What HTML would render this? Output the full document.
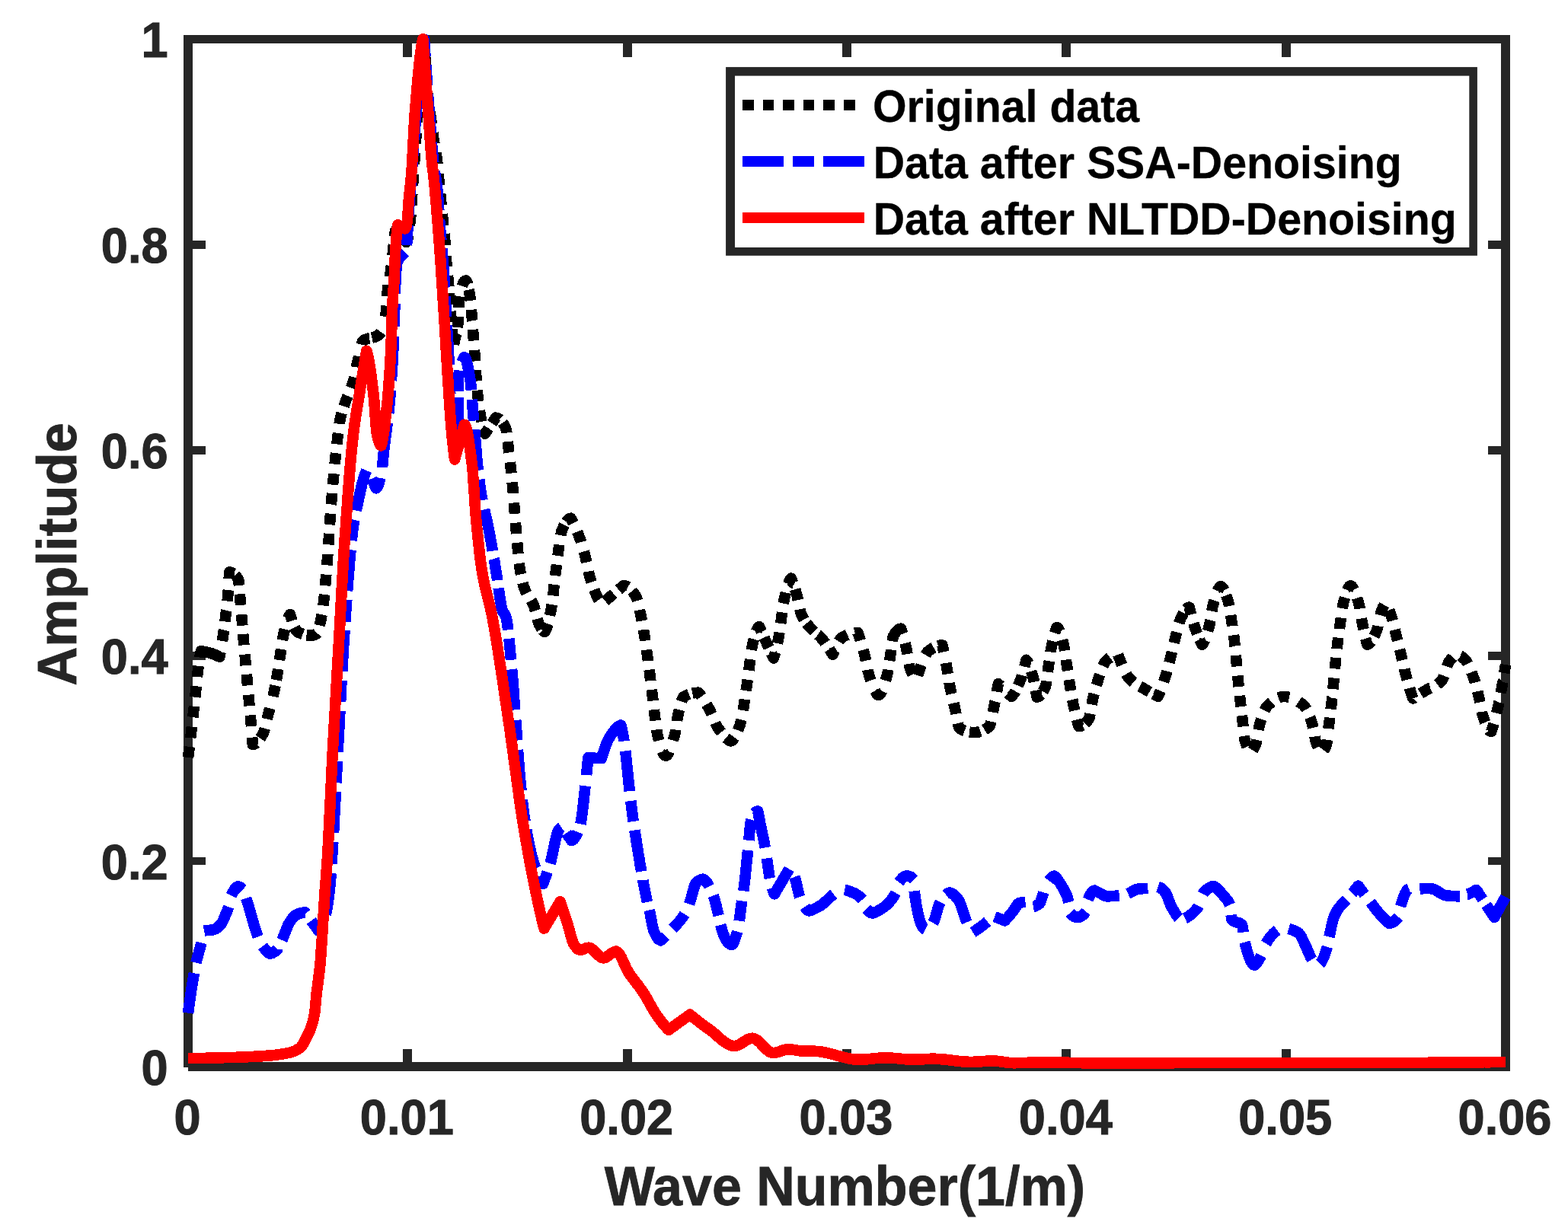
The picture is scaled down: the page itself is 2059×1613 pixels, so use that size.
<!DOCTYPE html>
<html lang="en">
<head>
<meta charset="utf-8">
<title>Amplitude vs Wave Number</title>
<style>
html,body{margin:0;padding:0;background:#fff;}
body{width:2059px;height:1613px;overflow:hidden;}
svg{display:block;}
text{font-family:"Liberation Sans",Arial,Helvetica,sans-serif;font-weight:bold;}
.tick{font-size:63.2px;fill:#262626;stroke:#262626;stroke-width:1px;}
.lab{font-size:70px;fill:#262626;stroke:#262626;stroke-width:0.8px;}
.leg{font-size:57.3px;fill:#000;stroke:#000;stroke-width:0.3px;}
</style>
</head>
<body>
<svg width="2059" height="1613" viewBox="0 0 2059 1613">
<rect x="0" y="0" width="2059" height="1613" fill="#ffffff"/>
<g stroke="#262626" stroke-width="11.7" fill="none" stroke-linecap="butt" shape-rendering="crispEdges">
<line x1="247" y1="46" x2="247" y2="1401.8"/>
<line x1="247.1" y1="1400.9" x2="1983" y2="1400.9"/>
<line x1="241.1" y1="51.4" x2="1983" y2="51.4" stroke-width="10.8"/>
<line x1="1977" y1="46" x2="1977" y2="1406.7"/>
<line x1="535.3" y1="1378.2" x2="535.3" y2="1396"/>
<line x1="535.3" y1="56" x2="535.3" y2="74.9"/>
<line x1="823.7" y1="1378.2" x2="823.7" y2="1396"/>
<line x1="823.7" y1="56" x2="823.7" y2="74.9"/>
<line x1="1112" y1="1378.2" x2="1112" y2="1396"/>
<line x1="1112" y1="56" x2="1112" y2="74.9"/>
<line x1="1400.3" y1="1378.2" x2="1400.3" y2="1396"/>
<line x1="1400.3" y1="56" x2="1400.3" y2="74.9"/>
<line x1="1688.7" y1="1378.2" x2="1688.7" y2="1396"/>
<line x1="1688.7" y1="56" x2="1688.7" y2="74.9"/>
<line x1="252" y1="1131.1" x2="269.8" y2="1131.1" stroke-width="10.6"/>
<line x1="1954.1" y1="1131.1" x2="1972" y2="1131.1" stroke-width="10.6"/>
<line x1="252" y1="861.2" x2="269.8" y2="861.2" stroke-width="10.6"/>
<line x1="1954.1" y1="861.2" x2="1972" y2="861.2" stroke-width="10.6"/>
<line x1="252" y1="591.2" x2="269.8" y2="591.2" stroke-width="10.6"/>
<line x1="1954.1" y1="591.2" x2="1972" y2="591.2" stroke-width="10.6"/>
<line x1="252" y1="321.3" x2="269.8" y2="321.3" stroke-width="10.6"/>
<line x1="1954.1" y1="321.3" x2="1972" y2="321.3" stroke-width="10.6"/>
</g>
<g fill="none" stroke-linejoin="round" shape-rendering="crispEdges">
<path stroke="#000000" stroke-width="14.6" d="M247 995 L247.5 991.4 L247.9 987.8 L248.4 984.1 L248.8 980.9 M250.2 969.2 L250.2 969 L250.7 965.2 L251.1 961.3 L251.6 957.4 L251.9 954.7 M253.3 942.1 L253.4 941.4 L253.8 937.4 L254.3 933.3 L254.8 929.2 L254.9 927.6 M256.2 915.8 L256.6 912.6 L257 908.4 L257.5 904.2 L257.8 901.3 M259 889.3 L259 888.9 L259.4 885.3 L259.8 882 L260.4 877.4 L260.7 874.8 M262.4 863.5 L262.7 861.3 L263.3 858.1 L263.9 855.2 L267.6 855.8 L271.3 856.6 L275 857.5 L278.4 858.5 L281.7 859.8 L285 861.2 L288.4 862.8 L289 859.8 L289.5 856.6 L289.6 856.4 M291.9 842 L292.4 838.7 L293 834.8 L293.5 831.5 L293.9 828 L294 827.6 M295.4 816.4 L295.8 813.1 L296.3 809.2 L296.7 805.7 L297.1 802.3 L297.2 801.9 M298.5 789.6 L298.8 787 L299.2 782.4 L299.4 779.3 L299.7 776 L299.8 775.1 M300.7 760.3 L300.9 755.9 L301.2 751.5 L304.1 752 L306.7 753.3 M309.2 755.7 L310 756.4 L312.9 760.8 L313.3 762.3 L313.6 765.1 L314 769 L314 769 M314.9 780.3 L315.1 783.1 L315.5 787.6 L315.8 791.2 L316.1 794.9 M317.1 807.1 L317.4 810.5 L317.7 814.4 L318 818.1 L318.3 821.7 M319.2 832.8 L319.2 832.9 L319.5 836.5 L319.8 840.1 L320.1 844.1 L320.4 847.3 M321.5 859.6 L321.9 863.1 L322.2 866.9 L322.5 870.6 L322.8 874.1 M323.9 885.8 L324.2 889.4 L324.5 893.1 L324.8 897 L325.1 900.4 M326.2 912.7 L326.6 916.1 L326.9 919.9 L327.3 923.7 L327.6 927.2 M328.8 939.4 L329 942.6 L329.4 946.7 L329.7 950.3 L330 954 M331.1 968.6 L331.2 969.6 L331.5 973.8 L331.8 978 L334.5 977.3 L336.4 975.9 M341.6 969.8 L342.7 968.2 L345.4 963.7 L346.4 961.4 L347.4 958.2 L347.8 956.8 M350.7 944.5 L351.4 941.4 L352.4 937.4 L353.4 933.9 L354.3 930.4 L354.3 930.4 M358.5 914.8 L359.1 912.1 L359.8 908.8 L360.5 905.4 L361.2 901.8 L361.5 900.5 M362.8 893.3 L363.4 890.1 L364.1 886 L364.7 882.5 L365.2 878.9 L365.2 878.9 M367 867.1 L367.5 863.5 L368.1 859.8 L368.7 855.8 L369.2 852.7 M370.9 840.8 L371.1 839.8 L371.7 836.5 L372.3 833.6 L373.5 828.4 L374 826.5 M378.2 812 L378.5 811.3 L379.8 808.7 L381 807 L382.4 811.4 L383.7 815.4 M386.9 824.2 L388.1 826.7 L389.5 828.9 L390.9 830.2 L394.5 831.8 L397.7 833 M402.5 834.2 L405.4 834.6 L409 834.8 L412.2 834.2 L415.5 832.5 L416.2 831.6 M419.6 821.5 L420.1 819.4 L421.3 814.4 L421.9 811.7 L422.4 808.6 L422.7 807.3 M424.4 795.4 L424.7 792.9 L425.3 788.2 L425.6 785.1 L426 781.7 L426.1 780.9 M427.1 769.2 L427.4 766.1 L427.7 762 L428 758.4 L428.3 754.7 L428.3 754.7 M429.3 742.4 L429.5 739.2 L429.8 735.2 L430.1 731.6 L430.3 727.9 M431.2 715.4 L431.4 712.3 L431.7 708.3 L432 704.3 L432.2 700.8 M433 689.2 L433.1 688.3 L433.3 684.3 L433.6 680.4 L433.9 676.6 L434 674.6 M434.9 662.4 L435 661.9 L435.2 658.5 L435.5 655.2 L435.9 650.6 L436.1 647.9 M437.1 636.7 L437.4 632.9 L437.8 628.6 L438.2 624.4 L438.4 622.2 M439.6 609.6 L439.7 608.1 L440.1 604.3 L440.5 600.4 L440.9 596.7 L441.1 595.1 M442.3 583.4 L442.4 582.6 L442.8 579.3 L443.2 576.1 L443.7 571.7 L444.1 568.9 M445.7 556.8 L445.8 555.7 L446.4 552.4 L446.9 549.7 L447.9 545.2 L448.6 542.6 M451.5 533.7 L452.1 531.9 L453.2 529 L454.2 526.1 L455.6 522.4 L456.6 520 M461.1 509.5 L462.4 505.9 L463.8 501.6 L464.6 498.8 L465.3 495.5 M468 482.4 L468.3 480.5 L469.1 477.1 L470.1 472.8 L471.1 468.1 L471.1 468.1 M474.6 452.6 L474.9 451.3 L475.9 448.7 L476.9 447.4 L480.6 445.5 L484.3 444.4 L485.2 444.3 M488.4 443.6 L491.6 442.9 L495.3 441.3 L497.3 440 L499.2 438.1 L500.5 436.3 M506.1 416.1 L506.4 414.4 L507 409 L507.2 406.3 L507.5 402.8 L507.6 401.6 M508.3 389 L508.5 386.2 L508.8 382.7 L509 380 L509.6 375.3 L509.7 374.5 M511.7 363.6 L511.9 362.4 L512.5 359.2 L513.1 355.4 L513.5 352.1 L513.9 349.2 M515.4 335.8 L515.8 332.7 L516.2 328.8 L516.6 324.8 L517 321.2 M518 310.6 L518.3 307.8 L518.8 304.9 L519.2 303.4 L520.9 300.9 L522.5 300 L523.8 302.1 M530.8 313.6 L533.5 318 L534.2 317.3 L534.8 315.5 L535.5 312.6 L536.1 309.1 M537.9 296 L538.1 294.1 L538.8 288.6 L539.1 285.9 L539.4 282.5 L539.4 281.5 M540.3 269.3 L540.5 266.1 L540.8 261.9 L541 258.4 L541.3 254.7 L541.3 254.7 M542 243.3 L542.3 239.7 L542.5 236.1 L542.8 232 L543 228.7 M543.9 215.1 L544.2 211.6 L544.4 207.6 L544.7 203.5 L544.9 200.6 M545.7 188.8 L545.8 187.6 L546.1 183.6 L546.4 179.8 L546.6 175.9 L546.8 174.3 M547.7 161 L547.7 160.9 L548 157.3 L548.3 153.7 L548.6 149.4 L548.9 146.4 M549.7 135.6 L550 132.5 L550.3 128.4 L550.6 124.3 L550.9 121 M551.8 110.2 L552 108.1 L552.3 104.2 L552.6 100.3 L553 96.4 L553.1 95.6 M554 84.8 L554.3 81.2 L554.7 77.6 L555 73.9 L555.3 70.3 L555.3 70.2 M556.4 59.4 L556.7 56.4 L557 53 L557.3 58 L557.4 61.2 M558 72 L558.1 72.2 L558.3 76.8 L558.6 81.2 L558.9 85.5 L558.9 86.6 M559.6 97.5 L559.6 97.8 L559.9 101.6 L560.2 105.3 L560.4 108.9 L560.7 112 M561.6 122.9 L561.8 124.7 L562 127.4 L562.3 130 L562.8 134.4 L563.2 137.4 M564.7 148.2 L564.8 148.5 L565.3 151.9 L565.8 155.4 L566.3 159.1 L566.8 162.6 M568.3 174.4 L568.3 174.5 L568.8 178.1 L569.3 181.6 L569.9 185.5 L570.5 188.8 M572.6 200.7 L573 203.4 L573.6 207.9 L573.9 210.7 L574.3 213.9 L574.4 215.2 M575.6 228.5 L575.6 228.6 L576 232.2 L576.3 235.8 L576.7 239.6 L577 243.1 M578.2 254.8 L578.5 258.4 L578.9 262.1 L579.3 265.8 L579.6 269.4 M580.8 281 L581.1 284.6 L581.5 288.3 L581.9 292 L582.2 295.5 L582.2 295.6 M583.4 307.2 L583.7 310.3 L584.1 314.5 L584.4 317.7 L584.6 321.2 L584.6 321.8 M585.6 335.8 L585.6 336.3 L585.9 339.8 L586.1 343 L586.5 347.2 L586.8 350.4 M588 362 L588.3 365.4 L588.7 369.5 L589 373 L589.3 376.6 M589.9 385.4 L590.1 388.4 L590.4 392.4 L590.7 396.3 L591 400 M591.7 408.8 L591.9 411.5 L592.2 415.2 L592.6 418.9 L592.9 422.6 L592.9 423.3 M593.7 432.2 L593.8 433.4 L594.1 436.9 L594.4 440.3 L594.6 443.7 L594.9 446.7 M595.9 452.5 L596.1 451.4 L596.8 448.7 L597.4 445.8 L598.1 442.8 L598.8 440.1 L599.3 438.3 M600.8 430.1 L600.9 429.1 L601.6 422.8 L601.7 420.4 L601.9 416.4 L601.9 415.5 M602.3 403.8 L602.3 402 L602.5 398.4 L602.6 396.4 L603.7 389.3 M606.8 375.8 L607.2 374.5 L608.3 371.8 L609.4 369.9 L610.6 368.8 L611.7 368.5 L612.7 369.5 L613.8 372.4 L614 373.2 M615.6 380.5 L615.9 381.9 L616.9 387.7 L617.3 390.2 L617.6 393.3 L617.8 394.9 M618.9 406.7 L619.1 409.5 L619.5 413.9 L619.8 417.2 L620 420.8 L620.1 421.2 M620.9 432.9 L621.2 436.3 L621.4 440.2 L621.7 443.9 L622 447.5 M623 459.8 L623.2 463 L623.5 467.1 L623.7 470.7 L624 474.4 M624.7 486 L624.7 486.1 L625 489.8 L625.2 493.3 L625.5 497.6 L625.7 500.6 M626.7 512.7 L626.8 513.5 L627.1 516.9 L627.4 520 L627.9 524.7 L628.2 527.2 M629.8 539.4 L630 540.5 L630.5 543.7 L631 546.6 L632 551.7 L632.4 553.8 M634.8 563.9 L634.9 564.5 L635.9 567.5 L636.9 569.7 L641.5 562.7 M646 556 L650.9 548.7 L653.5 549.2 L656.1 550.7 L656.2 550.8 M660.1 555.2 L661.4 557.1 L664 561.9 L664.5 563.6 L665 566.3 L665.3 568.6 M666.7 580 L667 583 L667.5 587.2 L667.9 590.5 L668.3 593.9 L668.4 594.5 M669.9 607.1 L670 608.1 L670.4 611.9 L670.8 615.7 L671.2 619.6 L671.4 621.6 M672.6 633.3 L672.9 636.1 L673.3 640.5 L673.6 643.8 L673.9 647.4 L673.9 647.8 M674.9 660.4 L675.1 662.8 L675.4 666.9 L675.7 670.9 L676 674.9 M676.9 686.6 L676.9 686.7 L677.2 690.4 L677.5 693.9 L677.9 698.2 L678.1 701.1 M679.1 712.8 L679.4 715.5 L679.7 719.8 L680.1 723.9 L680.4 727.4 M681.7 740 L682 741.9 L682.3 744.7 L682.7 747.2 L683.5 752.1 L684 754.4 M686.4 765.6 L686.8 767.3 L687.7 770.2 L688.5 772.6 L690.3 776.8 L691.5 779.2 M697.5 788.7 L699 791.4 L700.8 795.3 L701.8 798.2 L702.8 801.9 L702.9 802.2 M705.5 812.8 L705.8 813.9 L706.8 817.3 L707.8 819.8 L709.6 823.3 L711.3 826.1 M712.8 828.2 L713.2 828.7 L715 830 L716.1 828.8 L717.1 826.6 L718.2 823.7 L719.2 820.1 L719.5 819.3 M722 808.5 L722.4 806.5 L723.5 801.4 L724 798.9 L724.4 796 L724.7 794.2 M726.2 782.4 L726.3 781.4 L726.8 777.2 L727.2 773 L727.7 768.7 L727.8 767.9 M729.1 756.2 L729.5 752.5 L730 749 L730.6 744.7 L731 741.7 M732.4 730 L732.9 726.5 L733.4 722 L734 717.6 L734.3 715.5 M736.2 703.2 L736.3 702.7 L736.9 700 L737.4 697.7 L738 696.1 L740.3 691.1 L741.1 689.5 M743.7 685.3 L744.8 683.6 L747.1 681.5 L749.4 680.8 L751 683.4 L752.6 686.3 L752.9 686.9 M758.1 698.4 L759.1 701 L760.7 705.2 L761.8 708.3 L763 711.7 L763.1 712.1 M766.7 724.4 L767.5 727.2 L768.6 731.5 L769.4 735 L770.2 738.6 M772.7 750.6 L772.8 751.2 L773.7 754.8 L774.5 757.7 L776.1 762.6 L776.8 764.6 M780.3 774.5 L781 776.4 L782.6 780.4 L784.3 784 L785.9 787.1 L786.4 787.8 M794.6 789.3 L805.8 780 M812.3 774.6 L818.8 769.1 L821.4 769.5 L824 770.8 L824.5 771.1 M830.1 776.3 L831.9 778.5 L834.5 782.2 L835.5 784.2 L836.5 787 L837.1 789 M840 801.2 L840.5 803.7 L841.5 808.4 L842.1 811.3 L842.7 814.4 L842.9 815.5 M845 827.2 L845.1 828.3 L845.8 832.1 L846.4 836 L847 840 L847.2 841.6 M849 853.5 L849.4 856.5 L850 860.7 L850.5 864.1 L851 867.6 L851 867.9 M852.5 879.7 L852.9 882.4 L853.4 886.2 L853.8 890.1 L854.3 894 L854.3 894.2 M855.8 905.9 L856.2 909.4 L856.7 913.2 L857.2 917.1 L857.6 920.4 M858.9 932.1 L859.1 934.1 L859.6 938.4 L860.1 942.6 L860.6 946.6 M862.2 958.4 L862.5 960.8 L863 963.4 L863.5 965.6 L864.8 970.8 L865.3 972.7 M869.8 987 L870.2 987.9 L871.5 990.5 L872.9 992.1 L874.2 992.7 L875.7 992.1 L877.1 990.4 L878.6 987.8 L878.7 987.5 M883.9 972.6 L884.4 970.8 L885.9 965.6 L886.5 962.8 L887.2 959.2 L887.3 958.5 M889 946.6 L889 946.4 L889.7 942.5 L890.3 939.4 L891.4 934.7 L892 932.3 M894.9 921.4 L895.9 918.5 L897 916.1 L898.1 914.9 L902 913 L904.8 911.9 M909.2 910.6 L909.7 910.5 L913.5 909.9 L917.4 909.7 L919.4 912.3 L921.2 914.8 M927.8 925.1 L929.4 927.9 L931.4 931.5 L933 934.7 L934.5 938.1 M939.3 949.5 L939.5 950 L941.1 953.3 L942.7 956 L945.1 959.4 L947 961.9 M953.3 969.3 L954.6 970.4 L956.9 972.2 L959.3 973.4 L961.1 972.8 L962.8 971.2 L964.6 968.7 M969 959.3 L969.8 957.1 L971.6 952.5 L972.2 950.5 L972.9 948 L973.5 945.4 M975.7 933.1 L976.2 930.4 L976.8 926.2 L977.5 921.9 L977.9 918.6 M979.6 907.2 L980.1 904.2 L980.7 900 L981.2 896.4 L981.7 892.8 M983.3 880.5 L983.4 879.8 L983.9 875.4 L984.5 871.1 L985 866.8 L985.1 866 M986.8 853.8 L987.1 851.9 L987.7 849.1 L988.2 846.7 L989.4 841.8 L990 839.6 M993.2 829.2 L993.2 829.2 L994.4 826.2 L995.7 824.1 L996.9 823.1 L999.9 829.7 M1003.4 837.4 L1009.5 850.7 M1013 858.3 L1015.8 864.5 L1016.7 861.6 L1017.7 858.3 L1018 857.1 M1020.8 845.1 L1021.4 842.5 L1022.3 837.9 L1022.9 834.9 L1023.4 831.4 L1023.5 830.7 M1025.2 818.9 L1025.7 815.2 L1026.2 810.9 L1026.8 806.6 L1027.1 804.4 M1028.8 792.6 L1029.1 791.2 L1029.6 788.1 L1030.2 785.5 L1031.4 780.5 L1031.9 778.4 M1035.2 766.9 L1036.2 764.2 L1037.4 761.5 L1038.6 759.6 L1039.9 762.4 L1041.1 765.6 L1041.2 765.6 M1044.1 774.1 L1044.9 776.9 L1046.2 781.1 L1047.1 784.5 L1047.9 788.2 M1050.4 800.3 L1050.6 801.3 L1051.5 804.7 L1052.4 807.3 L1054.4 811.4 L1055.7 813.8 M1059.1 818.7 L1060.3 820.2 L1062.3 822.5 L1064.3 824.8 L1066.8 827.4 L1069 829.5 M1073.9 833.7 L1074.2 833.9 L1076.6 836.2 L1079.1 838.8 L1081.2 841.3 L1083.2 843.9 L1083.6 844.5 M1089.2 852.7 L1089.4 853 L1091.4 856.3 L1093.5 859.8 L1095.3 855.5 L1096 854 M1101.5 842.5 L1102.6 840.8 L1104.4 838.5 L1106.2 837 L1109.5 835.3 L1112.8 833.8 M1122.6 831.2 L1123 831.1 L1126.3 830.9 L1127.4 833.9 L1128.6 837.1 L1129.7 840.5 L1129.9 841.2 M1133.5 853.6 L1134.3 856.3 L1135.4 860.6 L1136.2 864.1 L1137 867.8 M1139.4 879.8 L1139.5 880.4 L1140.4 884 L1141.2 886.9 L1142.7 891.5 L1143.5 893.8 M1149 907.4 L1150.4 909.8 L1151.9 911.9 L1153.4 913.1 L1154.8 912.5 L1156.2 910.9 L1157.7 908.4 L1158 907.7 M1162.8 893.9 L1163.4 891.9 L1164.8 886.9 L1165.4 884.3 L1166.1 881 L1166.3 879.7 M1168.1 867.9 L1168.6 864.6 L1169.2 860.6 L1169.8 856.7 L1170.2 853.4 M1171.7 842.3 L1172.1 840 L1172.6 837.1 L1173.2 835.3 L1175.7 831.2 L1178.2 828.2 L1180.7 826.3 L1183.2 825.7 L1184.2 828.7 L1185.2 832.1 L1185.4 832.6 M1188.5 844.8 L1189.2 847.6 L1190.2 851.9 L1190.9 855.6 L1191.5 859.1 M1193.7 871.9 L1193.9 873.2 L1194.7 876.7 L1195.4 879 L1197.6 883.6 L1198.7 885.5 M1205.2 887.3 L1205.7 885.8 L1207.3 880.9 L1208.8 876.2 L1209.8 873.5 M1215.4 860.3 L1216.7 858.1 L1218.3 855.9 L1219.9 854.5 L1223.4 852.2 L1226.1 850.7 M1231.9 848.4 L1233.9 847.8 L1237.4 847.5 L1238.2 851 L1238.9 854.5 L1239.3 856.3 M1242.2 870.9 L1242.7 874 L1243.5 878.1 L1244.1 881.7 L1244.7 885.3 M1246.6 897.2 L1246.6 897.4 L1247.3 901 L1247.9 904.4 L1248.8 908.6 L1249.4 911.5 M1252.3 923.5 L1253.1 926.9 L1254 930.6 L1254.9 934.7 L1255.4 937.7 M1257.8 950 L1258.4 952.6 L1259.2 955.4 L1260.1 956.8 L1263.9 958.9 L1266.7 959.9 M1273 961.6 L1275.5 961.9 L1279.3 962.1 L1282.6 961.9 L1285.8 961.3 L1287.4 960.8 M1292.9 958.6 L1295.6 956.9 L1298.9 954.5 L1299.8 953 L1300.7 950.3 L1301.3 947.7 M1303.8 935.6 L1304.3 933 L1305.2 928.5 L1305.9 925.1 L1306.6 921.6 L1306.7 921.3 M1309 908.7 L1309.4 906.4 L1310.1 902.4 L1310.8 898.2 L1313.7 900.9 M1324 910.8 L1328.3 914.9 L1330.2 912.8 L1332.1 910.1 L1333.3 907.9 M1336.9 900.6 L1337.8 898.5 L1339.7 893.9 L1340.7 891.3 L1341.7 888.5 L1342.1 887 M1345.3 875.5 L1345.5 874.7 L1346.5 870.8 L1347.5 866.8 L1349 868.5 L1350.4 871.2 L1350.6 871.5 M1354.2 881.6 L1354.8 883.6 L1356.3 888.6 L1357 891.4 L1357.8 894.7 L1358 895.7 M1360.1 906.9 L1360.8 911.1 L1361.5 915.7 L1363.8 915.1 L1366.1 913.4 L1366.4 913 M1369.6 908.3 L1370.6 906.6 L1372.9 901.7 L1373.4 899.7 L1374 896.7 L1374.3 894.6 M1375.8 882.7 L1376.2 879.4 L1376.7 875.5 L1377.3 871.5 L1377.8 868.3 M1379.5 856.5 L1379.6 855.7 L1380.2 852.3 L1380.8 849.3 L1381.8 844.6 L1382.4 842.2 M1385 831.5 L1385.8 828.9 L1386.8 826.1 L1387.8 823.9 L1389.1 824.6 L1390.4 826.5 L1391.4 829 M1395 840.5 L1395.5 842.5 L1396.8 847.5 L1397.4 850.2 L1398 853.5 L1398.2 854.7 M1399.9 866.5 L1400.3 869.8 L1400.9 873.8 L1401.5 877.6 L1402 881 M1403.8 892.8 L1403.8 892.8 L1404.3 896.5 L1404.9 900 L1405.6 904 L1406.1 907.2 M1408.2 919 L1408.3 919.4 L1408.9 922.9 L1409.6 926.2 L1410.5 930.3 L1411.2 933.3 M1414 945.3 L1414.8 948.4 L1415.7 951.4 L1416.6 954.2 L1419.2 953.8 L1421.7 952.7 M1425 950.1 L1427.1 948 L1429.7 944.6 L1430.5 942.7 L1431.2 939.6 L1431.6 937.5 M1433.6 925.5 L1434.2 922.1 L1435 918.4 L1436 914.3 L1436.8 911.3 M1439.8 900 L1440 899.4 L1441 896.1 L1442 893 L1443.4 888.7 L1444.3 886.1 M1448.3 874.8 L1449.1 873 L1450.5 870.3 L1451.9 868.5 L1455.1 865.6 L1457.5 863.8 M1468.1 859.8 L1469.7 864.1 L1471.3 868.5 L1473 872.7 L1473.3 873.4 M1478.9 885.3 L1479.7 886.7 L1481.3 889.3 L1483 891.3 L1485.9 894.1 L1488.4 896.2 M1496.8 901.6 L1497.4 901.9 L1500.3 903.5 L1503.2 905.2 L1506.7 907.3 L1509.4 908.9 M1514.9 911.9 L1517.1 913.1 L1520.6 914.9 L1521.8 912.2 L1523 909.3 L1523.8 907.4 M1528 895.6 L1529.1 892.4 L1530.3 888.6 L1531.3 885.4 L1532.3 882 L1532.4 881.6 M1535.4 870.3 L1536.2 867.2 L1537.2 863.3 L1538.1 859.7 L1538.9 856.2 M1541.7 844.5 L1542.5 840.9 L1543.4 837.4 L1544.4 833.3 L1545.2 830.3 M1548.2 818.5 L1548.6 817.2 L1549.7 814.1 L1550.7 811.7 L1552.9 807.5 L1554.2 805.3 M1557.8 800.2 L1559.5 798.5 L1561.7 797.7 L1562.7 801.7 L1563.7 805.6 L1564.1 807.2 M1567.3 818.7 L1567.6 819.7 L1568.6 822.8 L1569.6 825.7 L1571.1 829.8 L1572.1 832.5 M1575.2 840.1 L1575.5 840.8 L1576.9 843.9 L1578.4 846.7 L1579.8 845.3 L1581.1 843 L1582.2 840.6 M1586 828.9 L1586.6 826.8 L1588 821.8 L1588.7 818.8 L1589.3 815.1 L1589.4 814.7 M1591.3 802.8 L1591.4 802.3 L1592 798.5 L1592.7 795.6 L1594.1 790.4 L1594.7 788.6 M1598.8 776.1 L1599.9 773.7 L1601.4 771.3 L1602.8 770.1 L1604.4 770.8 L1606 772.8 L1607.4 775.4 M1610.1 782 L1610.9 784.2 L1612.5 789 L1613.2 791.4 L1613.8 794.6 L1614.1 796.1 M1616.1 808 L1616.5 810.9 L1617.2 815.2 L1617.7 818.5 L1618.3 821.9 L1618.3 822.4 M1620 834.2 L1620.4 837.1 L1620.9 841.4 L1621.3 844.7 L1621.6 848.3 L1621.7 848.7 M1622.8 860.9 L1623.1 864.2 L1623.5 868.2 L1623.8 871.9 L1624.2 875.4 M1625.2 887.5 L1625.6 891.1 L1625.9 894.7 L1626.3 898.7 L1626.6 902 M1627.9 913.7 L1627.9 913.8 L1628.3 917.4 L1628.7 921 L1629.1 924.9 L1629.5 928.2 M1630.8 939.9 L1631.3 943.6 L1631.7 947.2 L1632.2 951.4 L1632.5 954.4 M1633.8 966.7 L1634.1 968.6 L1634.5 971.7 L1635 973.8 L1636.9 979.4 L1637.5 980.8 M1645.1 985.5 L1646.5 983.2 L1648.5 979 L1649.3 976.5 L1650.1 972.8 L1650.3 971.9 M1652.6 958.7 L1653.3 954.8 L1654.1 951.6 L1655.6 946.8 L1656.3 944.6 M1660.6 933.3 L1661.5 931.4 L1662.9 928.9 L1664.4 927.1 L1667.5 924.2 L1669.8 922.2 M1678.7 916.5 L1679.8 916.1 L1682.8 915.2 L1685.9 914.9 L1689.5 915.2 L1693 915.9 M1705.3 921.6 L1707.7 923.2 L1711.3 925.9 L1712.9 927.5 L1714.5 929.8 L1715.6 931.7 M1720.1 942.1 L1721 944.3 L1722.6 949 L1723.4 951.9 L1724.2 955.6 L1724.3 956 M1726.4 967.5 L1726.5 968.2 L1727.3 971.9 L1728.1 974.6 L1729.8 979.3 L1730.7 981.4 M1738.2 985.4 L1739.4 983.8 L1741.6 979 L1742.1 977.3 L1742.5 974.5 L1742.9 971.8 M1744.5 957.1 L1744.8 953.7 L1745.3 949.8 L1745.8 946.2 L1746.2 942.7 L1746.2 942.6 M1747.6 931.4 L1748 928.1 L1748.5 924.1 L1748.9 920.7 L1749.2 917.1 L1749.3 916.9 M1750.4 905.1 L1750.7 901.8 L1751.1 897.9 L1751.5 894.1 L1751.8 890.6 M1752.9 878.4 L1753.2 874.8 L1753.6 871.1 L1754 867.1 L1754.3 863.9 M1755.6 852.2 L1755.6 851.9 L1756 848.3 L1756.4 844.9 L1756.9 840.8 L1757.3 837.7 M1758.9 825.9 L1758.9 825.7 L1759.4 822.2 L1759.9 818.7 L1760.5 814.4 L1760.9 811.5 M1762.7 799.1 L1762.9 797.8 L1763.5 794.5 L1764.1 791.9 L1765.4 787 L1766 784.9 M1769.2 775.1 L1769.4 774.6 L1770.7 771.9 L1772 770 L1773.3 769.4 L1774.9 770.1 L1776.4 771.9 L1777.9 774.7 M1782 785.5 L1782.6 787.5 L1784.2 792.5 L1784.9 795.2 L1785.6 798.8 L1785.7 799.6 M1787.8 812.4 L1788.4 815.8 L1789.1 819.6 L1790 823.9 L1790.6 826.7 M1793.2 838.7 L1793.5 839.7 L1794.3 843.3 L1795.2 846.7 L1797.2 846 L1799.3 844.2 L1800.1 842.9 M1804.3 835.8 L1805.4 833.6 L1807.4 829.2 L1808.3 826.7 L1809.2 823.4 L1809.4 822.2 M1812.4 808.2 L1812.7 807.1 L1813.5 803.7 L1814.4 801.2 L1816.1 797.6 L1817.8 794.7 M1824.1 801.4 L1825.3 804.3 L1826.7 808.2 L1827.6 811.1 L1828.6 814.5 L1828.8 815.2 M1831.6 827.2 L1832.4 830.4 L1833.3 834.3 L1834.2 838 L1835.1 841.4 M1838 853 L1838.8 856.4 L1839.7 860.1 L1840.6 863.8 L1841.4 867.2 M1844.1 878.8 L1844.1 878.9 L1845 882.5 L1845.9 885.9 L1847 889.8 L1847.8 892.9 M1851 903.8 L1851.2 904.6 L1852.3 908 L1853.4 911.3 L1854.4 914.5 L1855.5 917.5 L1855.6 917.4 M1865.5 911 L1868.5 909.1 L1871.7 907.1 L1874.8 905.4 L1877.8 903.9 L1878.2 903.8 M1887.5 899 L1890 897.1 L1893.1 894.3 L1894.5 892 L1895.9 888.5 L1896.2 887.7 M1900.1 875.5 L1900.2 875.2 L1901.6 871.4 L1903 868.8 L1905.5 865.5 L1907.6 863.1 M1917.6 861.4 L1918.1 861.6 L1920.7 863.6 L1923.3 865.9 L1925 867.8 L1926.6 870.3 L1927.4 871.9 M1932.3 882.9 L1933.2 885.3 L1934.9 889.7 L1935.9 892.6 L1936.9 895.8 L1937.1 896.6 M1940.2 908.1 L1940.9 911.1 L1941.9 915.2 L1942.7 918.9 L1943.4 922.4 M1945.9 934.9 L1946 935.7 L1946.9 939.2 L1947.7 941.9 L1949.4 946.6 L1950.3 948.8 M1955.3 959 L1956.4 960.2 L1958.1 961.1 L1959.1 958.4 L1960 955.4 L1961 952.2 L1961.5 950.6 M1965.1 936.8 L1965.8 933.8 L1966.8 929.7 L1967.6 926.4 L1968.3 922.8 L1968.4 922.6 M1970.8 910.2 L1971.3 907.2 L1972.1 903 L1972.7 899.6 L1973.3 896 L1973.4 895.9 M1975.3 884.1 L1975.8 881 L1976.4 877 L1977 873"/>
<path stroke="#0000ff" stroke-width="14.6" d="M247 1330.7 L247.6 1326.4 L248.1 1322.2 L248.7 1318.2 L249.3 1314.1 L249.8 1310.2 L250.4 1306.4 L250.9 1302.6 L251.5 1298.9 L252.1 1295.3 L252.6 1291.8 L253.2 1288.3 L253.8 1284.9 L254.3 1281.6 L254.9 1278.3 L254.9 1278.3 M257.5 1264.6 L257.5 1264.6 L258.5 1260.4 L259.5 1256.5 L260.5 1252.9 L261.5 1249.4 L262.5 1246 L263.5 1242.3 L264.5 1238.4 M268 1222.7 L271.1 1222.1 L274.1 1221.9 L277.1 1221.7 L280.2 1221.3 L282.8 1220.3 L285.4 1218.5 L288.1 1216 L290.7 1213.1 L292.2 1210.7 L293.8 1207.4 L295.3 1203.6 L296.8 1199.9 L298 1197.3 L299.1 1194.5 L300.3 1191.2 L300.3 1191.2 M303.8 1176.3 L303.8 1176.3 L306 1171.7 L308.2 1167.9 L310.4 1165.3 L312.6 1164.4 L315.6 1165.6 L318.7 1168.5 M323.1 1179.8 L324.2 1183.1 L325.3 1186.6 L326.5 1190.2 L327.6 1194.1 L328.7 1198 L329.8 1202 L331 1205.9 L332.1 1209.9 L333.2 1213.8 L334.3 1217.5 L335.4 1221.1 L336.6 1224.5 L337.7 1227.6 L338.8 1230.5 L338.8 1230.5 M344.9 1242.8 L344.9 1242.8 L347.3 1246 L349.7 1248.9 L352.1 1251.2 L354.5 1252.7 L357.7 1251.9 L360.9 1249.9 L364.1 1247.2 L364.1 1247.1 M370.3 1234.9 L370.3 1234.9 L371.7 1231.7 L373 1228.3 L374.4 1224.7 L375.8 1221.1 L377.2 1217.7 L378.5 1214.7 L379.9 1212.2 L382.1 1208.8 L384.2 1205.7 L386.4 1203.2 L388.6 1201.7 L391.7 1200.4 L394.8 1199.4 L397.8 1198.7 L400.9 1198.5 L401.6 1199.5 M408.8 1209.4 L418.4 1222.7 L419.8 1222.1 L421.1 1220.3 L422.5 1217.5 L423.9 1213.9 L424.3 1212.7 M427.7 1201 L428 1200 L428.6 1197.7 L429.2 1194.9 L429.7 1191.7 L430.3 1188.1 L430.9 1184.1 L431.5 1179.8 L432 1175.2 L432.6 1170.2 L433.2 1165 L433.5 1162.1 L433.8 1158.8 L434.1 1155.2 L434.4 1151.4 L434.6 1147.3 L434.7 1146.6 M435.5 1134.5 L435.5 1134.4 L435.8 1130 L436 1126.7 L436.2 1123.4 L436.4 1120 L436.7 1116.5 L436.9 1113 L437.1 1109.4 L437.3 1106.1 M438 1093.9 L438.2 1090.8 L438.4 1086.9 L438.6 1083 L438.8 1079.1 L439 1075.1 L439.2 1071.1 L439.4 1067.1 L439.6 1063 L439.9 1059 L440.1 1054.9 L440.3 1050.8 L440.5 1046.7 L440.7 1042.6 L440.9 1039.7 M441.5 1028.3 L441.6 1026.2 L441.8 1022.1 L442 1018 L442.2 1013.9 L442.4 1009.8 L442.6 1005.8 L442.9 1001.8 L443 999.5 M443.6 988.1 L443.7 986 L443.9 982.1 L444.1 978.2 L444.3 974.2 L444.6 970.2 L444.8 966.2 L445 962.2 L445.2 958.1 L445.4 954.1 L445.6 950 L445.8 945.9 L446 941.9 L446.2 937.8 L446.4 933.9 M447.1 921.7 L447.1 921.5 L447.3 917.5 L447.5 913.5 L447.7 909.5 L447.9 905.5 L448.1 901.5 L448.4 897.6 L448.6 893.7 M449.2 882.3 L449.2 882.1 L449.4 878.4 L449.6 874.7 L449.8 871 L450 867.3 L450.3 863.8 L450.5 860.2 L450.7 856.8 L450.9 853.4 L451.1 850 L451.4 845.4 L451.7 840.9 L452 836.4 L452.3 831.9 L452.5 827.9 M453.3 816.5 L453.4 814.3 L453.7 810 L454 805.7 L454.3 801.5 L454.6 797.3 L454.9 793.1 L455.2 789 L455.2 788.2 M456.1 776.3 L456.3 773 L456.6 769.1 L456.9 765.3 L457.2 761.5 L457.5 757.8 L457.8 754.2 L458.1 750.6 L458.4 747.1 L458.6 743.6 L458.9 740.2 L459.2 736.9 L459.5 733.7 L459.8 730.5 L460.1 727.4 L460.5 722.7 L460.6 722.1 M461.8 709.8 L461.9 709.2 L462.3 704.9 L462.8 700.8 L463.2 696.9 L463.7 693.2 L464.1 689.8 L464.6 686.6 L465 683.7 L465.2 682.8 M467.7 670.6 L468.3 668 L469.1 664.4 L470 660.4 L470.9 656.2 L471.7 652.1 L472.6 648 L473.5 644 L474.4 640.1 L475.2 636.5 L476.1 633.1 L477 630 L478.3 625.9 L479.6 622.1 L480.9 618.7 L481.2 618 M488.1 628.7 L493.9 641.3 L494.9 640.7 L495.9 639.1 L496.9 636.6 L497.9 633.2 L498.9 629.1 L499.1 627.9 M501.9 613.8 L501.9 613.7 L502.2 611.2 L502.6 607.9 L502.9 604.1 L503.3 600.1 L503.6 596.2 L504 592.7 L504.5 588.5 L504.9 584.6 L505.4 580.8 L505.9 577.2 L506.3 573.7 L506.8 570.2 L507.3 566.7 L507.7 563.3 L508.2 559.7 L508.7 556.1 L508.7 555.9 M510.2 543 L510.5 539.7 L511 535 L511.3 532 L511.6 529 L511.8 525.9 L512.1 522.7 L512.4 519.5 L512.7 516.1 L512.9 512.9 M513.9 500 L514.1 497.5 L514.3 493.4 L514.6 489.1 L514.9 484.6 L515.2 480 L515.4 475.2 L515.7 470.2 L516 465 L516.1 462.1 L516.3 459.1 L516.4 455.8 L516.6 452.4 L516.7 448.8 L516.9 445 L517 441.7 M517.5 428.8 L517.6 424.7 L517.7 420.5 L517.9 416.2 L518 411.9 L518.2 407.6 L518.3 403.4 L518.5 399.2 L518.5 398.5 M518.9 385.6 L519 382.8 L519.1 378.5 L519.2 374.4 L519.4 370.7 L519.5 367.5 L519.6 365 L519.9 360.1 L520.2 355.7 L520.5 351.9 L520.9 348.8 L521.2 346.5 L521.5 345 L523.3 340.6 L525 338.1 L526.8 336.2 L529.5 334.2 L532.2 331.4 L532.2 331.4 M534 322 L534.2 319.5 L534.5 316.2 L534.7 312.4 L534.9 308.7 L535.1 305 L535.4 301.1 L535.6 297.1 L535.7 295.2 M536.4 283.7 L536.5 281 L536.8 277.2 L537 273.7 L537.3 269.4 L537.6 265.3 L537.9 261.3 L538.2 257.5 L538.5 253.7 L538.8 250 L539.1 246.3 L539.4 242.5 L539.7 238.7 L540 234.8 L540.2 232.1 M541.1 220.6 L541.2 218.6 L541.5 214.5 L541.8 210.4 L542.1 206.3 L542.4 202.2 L542.7 198.1 L543 194.1 L543.1 193.9 M543.9 182.4 L544 182 L544.3 178 L544.6 174.1 L544.9 170.2 L545.2 166.4 L545.5 162.6 L545.8 158.9 L546.1 155.3 L546.4 151.8 L546.7 148.4 L547 145 L547.4 140.5 L547.8 136 L548.2 131.6 L548.3 130.9 M549.4 119.4 L549.5 118.6 L549.9 114.3 L550.3 110.2 L550.8 106 L551.2 101.9 L551.6 97.9 L552 94 L552.1 92.7 M553.4 81.3 L553.7 78.8 L554.1 75.2 L554.5 71.6 L554.9 68.2 L555.3 64.8 L555.8 61.5 L556.2 58.2 L556.6 55.1 L557 52 L557.3 56.2 L557.5 60.3 L557.8 64.5 L558.1 68.6 L558.4 72.7 L558.5 74.2 M559.3 85.7 L559.5 88.7 L559.8 92.7 L560 96.6 L560.3 100.5 L560.6 104.3 L560.9 108.2 L561.1 112 L561.2 112.4 M562 123.9 L562.2 127 L562.5 130.6 L562.8 134.3 L563.1 137.9 L563.3 141.4 L563.6 145 L563.9 149.2 L564.3 153.5 L564.6 157.7 L564.9 162 L565.2 166.3 L565.6 170.5 L565.9 174.7 L566 175.5 M566.9 187 L567.2 190.8 L567.5 194.7 L567.9 198.4 L568.2 202 L568.5 205.5 L568.8 208.8 L569.2 212 L569.4 213.7 M570.8 225.1 L571 226.5 L571.5 229.7 L572 232.8 L572.6 235.9 L573.1 239.3 L573.6 243 L574.1 247.1 L574.6 251.9 L574.9 254.9 L575.1 258.3 L575.4 262.2 L575.7 266.3 L576 270.5 L576.2 274.9 L576.3 276.5 M577.1 288 L577.3 291.2 L577.6 295.4 L578 299.5 L578.3 303.4 L578.6 307.2 L579 310.9 L579.3 314.6 L579.3 314.7 M580.3 326.2 L580.3 326.2 L580.6 329.8 L580.9 333.4 L581.2 336.9 L581.5 340.5 L581.8 344.2 L582.1 348 L582.4 352 L582.7 356.2 L582.9 359.6 L583.2 363.1 L583.4 366.7 L583.6 370.5 L583.8 374.4 L584 377.8 M584.7 389.3 L584.7 389.9 L584.9 393.9 L585.1 398 L585.3 402 L585.5 406.1 L585.7 410 L585.9 413.8 L586 416.1 M586.7 427.5 L586.8 428.6 L587 431.9 L587.3 435.3 L587.5 438.6 L587.8 442 L588 445.5 L588.2 449.2 L588.5 453.2 L588.7 457.5 L588.9 460.7 L589 464.3 L589.2 468 L589.4 471.9 L589.5 476 L589.6 479.2 M590.1 490.7 L590.2 492.4 L590.3 496.3 L590.5 500 L590.7 504 L590.9 508.1 L591 512.1 L591.2 516.2 L591.3 517.5 M591.8 529 L591.9 532.1 L592.1 535.9 L592.3 539.5 L592.5 542.9 L592.6 546.2 L592.8 549.2 L593 552 L593.3 557.1 L593.7 562.1 L594 567 L594.4 571.7 L594.7 576.3 L595.1 580.6 L595.1 580.6 M596.1 592.1 L596.5 595 L596.8 597.7 L597.2 600.1 L597.5 602 L597.8 601.4 L598.2 599.8 L598.5 597.3 L598.8 593.9 L599.2 589.9 L599.5 585.4 L599.5 585.4 M600.3 573.9 L600.5 570 L600.6 567.7 L600.8 565.2 L600.9 562.6 L601.1 559.6 L601.2 556.2 L601.4 552.2 L601.5 547.6 L601.7 542.2 L601.8 536 L601.8 533.7 L601.9 530.3 L601.9 526.1 L601.9 522.2 M602 514.3 L602 511.3 L602.1 506.5 L602.1 502.2 L602.1 498.7 L602.2 496.2 L602.2 495 L602.9 488.5 L603.2 486.6 M606.6 475.6 L606.9 474.8 L608.3 471.3 L609.7 469.2 L610.6 469.7 L611.5 471.2 L612.4 473.6 L613.3 476.8 L614.2 480.7 L615.1 485.2 L616 490.1 L616.9 495.5 L617.8 501.2 L618.1 503.5 L618.4 506.5 L618.7 510 L618.9 512.5 M619.8 524.7 L620 526.6 L620.3 530.8 L620.6 535 L620.9 538.8 L621.2 542.5 L621.5 546.1 L621.8 549.7 L622.1 552.7 M623.1 564.2 L623.4 567.5 L623.7 571.1 L624 575 L624.4 579 L624.7 583.1 L625 587.3 L625.4 591.4 L625.7 595.4 L626 599.3 L626.3 603.1 L626.7 606.7 L627 610 L627.5 614.6 L627.8 617.8 M629.2 630 L629.4 631.2 L629.9 634.9 L630.3 638.5 L630.8 641.8 L631.3 644.9 L632.1 649.6 L632.9 654 L633.4 657.1 M636 669.3 L636.8 672.5 L637.5 675.9 L638.3 679.2 L639.1 682.6 L639.9 686.1 L640.6 689.7 L641.4 693.4 L642.2 697.4 L642.9 700.9 L643.5 704.4 L644.1 708 L644.8 711.6 L645.5 715.3 L646.1 719.1 L646.8 722.9 L646.9 723.6 M648.6 734.1 L648.7 734.4 L649.4 738.2 L650 742.1 L650.6 746 L651.3 749.8 L651.9 753.6 L652.5 757.7 L653.2 762 L653.2 762.1 M654.7 772.6 L655 775.3 L655.6 779.6 L656.3 783.9 L656.9 787.9 L657.5 791.6 L658.1 795 L658.8 797.9 L659.4 800.4 L660 802.3 L661.4 805.1 L662.9 807.1 L664.3 810 L664.7 811.5 L665.2 813.4 L665.6 815.8 L666.1 818.5 L666.5 821.7 L666.9 825.1 L667.2 827.4 M668.4 838.8 L668.7 841.5 L669.1 846.1 L669.6 850.8 L670 855.7 L670.4 860.5 L670.9 865.4 L671 866.8 M672.1 879.1 L672.2 879.9 L672.5 883.1 L672.8 886.5 L673.1 890 L673.4 893.7 L673.7 897.4 L674 901.2 L674.3 905.2 L674.6 909.1 L674.9 913.2 L675.1 917.3 L675.4 921.4 L675.7 925.5 L676 929.6 L676.2 932.4 M677.2 945.5 L677.2 945.9 L677.5 949.9 L677.8 953.8 L678.1 957.8 L678.4 961.8 L678.7 965.9 L678.9 970 L679.1 972.6 M680 984.8 L680.1 986.5 L680.4 990.5 L680.7 994.5 L681 998.4 L681.3 1002.3 L681.5 1006.1 L681.8 1009.7 L682.1 1013.2 L682.4 1016.6 L682.7 1019.8 L683.1 1024.3 L683.5 1028.6 L683.9 1032.9 L684.4 1037.1 L684.5 1038.2 M685.8 1050.5 L686 1052.8 L686.4 1056.5 L686.8 1059.9 L687.3 1063.3 L687.7 1066.4 L688.1 1069.5 L688.5 1072.3 L689.3 1077.3 L689.3 1077.5 M691.4 1090.3 L691.6 1091.4 L692.3 1095.8 L693.1 1100 L693.9 1104.1 L694.6 1107.9 L695.4 1111.6 L696.2 1115.1 L696.9 1118.5 L697.7 1121.6 L698.5 1124.6 L699.2 1127.4 L700 1130 L701.4 1134.6 L702.8 1139.1 L703.3 1140.4 M707.4 1151.5 L708.5 1154.1 L710 1156.9 L711.4 1159.2 L712.8 1161 L714 1158.2 L715.2 1155.2 L716.4 1152 L717.6 1148.7 L718.7 1145.5 M722.4 1134.2 L722.4 1134.2 L723.4 1130.9 L724.3 1127 L725.2 1122.9 L726.2 1118.5 L727.1 1114 L728.1 1109.5 L729 1105.2 L730 1101.1 L730.9 1097.4 L731.9 1094.3 L732.8 1091.8 L733.8 1090 L735.9 1087.4 L737.1 1086.6 M743.7 1094.3 L750.4 1104.1 L752.3 1103.4 L754.2 1101.5 L756 1098.5 L757.9 1094.6 L758.6 1092.9 M762.3 1082.4 L762.7 1080.5 L763.2 1077.7 L763.7 1074.5 L764.2 1071 L764.7 1067.1 L765.2 1063 L765.7 1058.7 L766.2 1054.2 L766.7 1049.6 L767.2 1045 L767.7 1040.3 L768.2 1035.7 L768.6 1032.3 M770.1 1018.2 L770.1 1017.8 L770.5 1014.2 L770.8 1010.6 L771.2 1006.8 L771.5 1003 L771.9 999.2 L772.2 995.3 L789.7 996.2 L791.1 991.7 L792.6 987.4 L794 983.3 L795.4 979.4 L796.8 975.8 L798.2 972.6 L799.7 969.8 L801.1 967.4 L803.5 963.9 L805.9 960.6 L808.2 957.7 L810.6 955.2 L813 953.5 L815.4 952.5 L816.1 955.1 L816.7 958 L817.4 961.2 L818.1 964.8 L818.7 968.5 L819.4 972.6 L819.5 973.5 M821.2 986.3 L821.6 989.4 L822 993.4 L822.4 997.4 L822.9 1001.6 L823.3 1005.9 L823.8 1010.2 L824.2 1014.5 L824.6 1018.8 L825.1 1023 L825.5 1027.2 L825.9 1031.3 L826.4 1035.3 L826.8 1039.1 L826.8 1039.2 M828.3 1052 L828.6 1054.4 L829 1058.2 L829.5 1061.9 L829.9 1065.6 L830.4 1069.2 L830.8 1072.6 L831.3 1076 L831.7 1079 M833.4 1090.5 L833.4 1090.5 L834 1094.5 L834.7 1098.6 L835.3 1102.6 L835.9 1106.6 L836.5 1110.6 L837.2 1114.6 L837.8 1118.5 L838.4 1122.4 L839.1 1126.3 L839.7 1130.1 L840.3 1133.8 L840.9 1137.5 L841.6 1141.1 L842.2 1144.7 M844.3 1156.2 L844.3 1156.5 L845 1160.4 L845.7 1164.2 L846.5 1167.9 L847.2 1171.5 L847.9 1175 L848.6 1178.5 L849.3 1181.8 L850 1184.9 L850 1184.9 M852.7 1195.4 L852.7 1195.4 L853.5 1198.9 L854.2 1202.7 L855 1206.8 L855.8 1210.9 L856.5 1214.8 L857.3 1218.3 L858 1221.3 L858.8 1223.4 L861 1227.9 L863.1 1231.7 L865.3 1234.3 L867.5 1235.3 L870.1 1233 L872.8 1230.6 L873.9 1229.5 M883.3 1219.9 L883.3 1219.9 L885.5 1217.5 L887.8 1215.1 L890 1212.6 L892.3 1210 L894.5 1207.2 L896.8 1204.2 L899 1200.7 L899 1200.7 M905.1 1187.5 L905.1 1187.5 L906.3 1184.1 L907.5 1180 L908.7 1175.6 L909.9 1171.1 L911.1 1166.8 L912.3 1163.1 L913.5 1160.3 L914.7 1158.7 L917.6 1156.6 L920.6 1155.2 L923.5 1154.7 L925.4 1155.8 L927.2 1157.7 L929.1 1160.5 L931 1163.9 L931.2 1164.3 M936.6 1176.4 L936.6 1176.4 L937.6 1179.1 L938.6 1182.3 L939.6 1185.9 L940.6 1189.9 L941.6 1194 L942.6 1198.3 L943.6 1202.6 L943.6 1202.6 M946.2 1214.9 L946.2 1214.9 L947.5 1219.5 L948.8 1223.8 L950.2 1227.7 L951.5 1231.1 L952.8 1233.8 L954.1 1235.8 L956.4 1238.4 L958.8 1240.3 L961.1 1241.1 L962.5 1239.7 L963.9 1237 L965.3 1233.1 L966.7 1228.6 L968.1 1223.6 L968.1 1223.6 M970.7 1209.6 L971.2 1206.3 L971.7 1202.6 L972.2 1198.7 L972.7 1194.7 L973.2 1190.8 L973.7 1187 L974.2 1183.4 L974.2 1183.4 M976.3 1170.3 L976.7 1167.2 L977.1 1163.9 L977.5 1160.4 L978 1156.7 L978.4 1153 L978.8 1149.1 L979.2 1145.1 L979.6 1141.1 L980 1137 L980.4 1132.9 L980.9 1128.8 L981.3 1124.8 L981.7 1120.8 L982.1 1116.9 M983.3 1103.8 L983.7 1099.8 L984.1 1095.3 L984.4 1091 L984.8 1087 L985.2 1083.4 L985.6 1080.4 L986 1078.1 L986.4 1076.7 M991 1068.1 L993 1066.1 L995.2 1065.4 L995.9 1069.1 L996.6 1072.8 L997.3 1076.5 L998 1080.1 L998.7 1083.7 L999.5 1087.4 L1000.2 1091 L1001 1094.5 L1001.8 1098 L1002.5 1101.6 L1003.3 1105.3 L1004 1109.2 L1004.8 1113.4 L1004.8 1113.4 M1006.9 1127.4 L1007.5 1131.3 L1008 1135.4 L1008.6 1139.5 L1009.2 1143.6 L1009.8 1147.4 L1010.3 1150.8 L1010.9 1153.7 M1013.9 1166.2 L1014 1166.4 L1015 1169.7 L1016 1172.4 L1017 1174.3 L1036.3 1141.4 M1043.3 1151.9 L1043.3 1151.9 L1044.3 1154.7 L1045.3 1158.4 L1046.3 1162.7 L1047.3 1167.2 L1048.3 1171.5 L1049.3 1175.3 L1050.3 1178.1 L1050.3 1178.1 M1056.8 1191.2 L1058.4 1193.6 L1060.5 1195.6 L1062.5 1196.5 L1065.5 1195.5 L1068.5 1194.3 L1071.4 1192.8 L1074.4 1191.2 L1077.4 1189.5 L1080.3 1187.5 L1083.2 1185 L1086.2 1182.2 L1089.1 1179.5 L1092 1176.8 L1094.8 1174.6 M1109.1 1168.9 L1111.6 1169.4 L1114.8 1170.4 L1117.9 1171.6 L1121.1 1172.9 L1123.9 1174.3 L1126.8 1176.1 L1129.7 1178.5 L1132.5 1181.6 M1137.7 1193.9 L1137.7 1193.9 L1140.3 1196.7 L1143 1198.7 L1145.6 1199.5 L1149.1 1198.3 L1152.5 1196.7 L1156 1194.7 L1158.5 1193.1 L1161 1191.3 L1163.6 1189.2 L1166.1 1186.8 L1168.6 1184.1 L1171.2 1180.9 L1173.7 1177.2 L1176.2 1172.9 M1180.5 1158.9 L1182.9 1155.6 L1185.3 1152.9 L1187.8 1151.1 L1190.2 1150.5 L1193.4 1150.8 L1196.6 1152.2 L1199.8 1155.4 M1200.6 1170.3 L1200.6 1170.3 L1201.6 1177.8 L1202.6 1184.6 L1203.6 1190.7 L1204.7 1196.1 L1205.7 1200.8 L1206.7 1204.9 L1207.7 1208.5 L1208.7 1211.5 L1209.7 1214.1 L1210.8 1216.2 L1211.8 1217.9 L1212.8 1219.2 L1213.8 1220.1 L1215.1 1220.8 M1225.1 1212.2 L1225.1 1212.2 L1226.3 1210 L1227.5 1206.8 L1228.7 1203 L1229.9 1198.8 L1231.1 1194.7 L1232.3 1190.8 L1233.5 1187.5 L1234.7 1185.1 M1242.1 1175.2 L1244.5 1173.2 L1247 1172.5 L1249.8 1173.3 L1252.7 1175.3 L1255.5 1178.2 L1258.3 1181.6 L1259.7 1183.9 L1261.1 1187.2 L1262.5 1191.1 L1263.9 1195.4 L1265.4 1199.9 L1266.8 1204.2 L1268.2 1208.1 L1269.6 1211.4 M1277.5 1224.5 L1280.7 1222.5 L1283.9 1220.3 L1287.1 1218 L1290.3 1215.6 L1293.5 1213.1 L1296.7 1210.5 L1296.7 1210.5 M1306.1 1204.1 L1319.5 1209.3 L1322.1 1206.5 L1324.7 1203.6 L1327.3 1200.5 L1329.9 1197.4 L1332.1 1194.2 L1334.3 1190.7 L1336.5 1187.6 L1338.7 1186 L1342.7 1185.1 L1346.5 1184.8 M1356.8 1191 L1358.5 1190.7 L1361.7 1189.2 L1364.9 1186.9 L1366.2 1185.1 L1367.4 1181.8 L1368.7 1177.7 L1369.9 1173.3 L1370.2 1172.2 M1377.4 1156.9 L1379.1 1154.6 L1381.8 1151.9 L1384.5 1150.7 L1386.7 1152.7 L1388.9 1155.4 L1391.1 1158.5 L1393.3 1162.1 L1395.5 1165.9 L1396.8 1168.2 L1398.1 1170.5 L1399.5 1173.1 L1400.8 1176.2 L1402.1 1180.1 L1403.4 1185.1 L1403.4 1185.1 M1405.1 1199.1 L1408.3 1202.6 L1411.5 1204.4 L1414.7 1204.9 L1417.5 1204.5 L1420.4 1203.2 L1423.2 1200.9 L1426.1 1197.4 L1426.1 1197.4 M1428.7 1181.6 L1428.7 1181.6 L1430.9 1176.6 L1433.1 1172.9 L1435.3 1170.5 L1437.5 1169.7 L1452.3 1177.3 L1455.8 1177.3 L1459.3 1177.1 L1462.8 1176.9 L1466.3 1176.7 L1469.8 1176.4 L1469.8 1176.4 M1481.2 1173.8 L1481.2 1173.8 L1484.5 1172.3 L1487.8 1170.4 L1491 1168.6 L1494.3 1167.6 L1497.6 1167.3 L1500.8 1167.2 L1504.1 1167 L1507.4 1166.8 L1507.4 1166.8 M1520.5 1165 L1523.7 1166 L1527 1168.6 L1530.2 1172 L1531.8 1174.6 L1533.3 1178.3 L1534.9 1182.7 L1536.4 1186.9 L1538 1190.4 L1539.9 1193.9 L1541.8 1197.1 L1543.7 1200.2 L1545.6 1203 L1547.5 1205.4 L1547.6 1205.5 M1556 1206.1 L1558.2 1205.1 L1561.2 1203.3 L1564.2 1201.1 L1567.1 1198.4 L1570 1195.4 L1573 1192.1 L1574.1 1190 M1579.3 1174.2 L1580 1172.9 L1582.9 1170 L1585.7 1167.6 L1588.6 1165.7 L1591.4 1164.5 L1594.3 1164.1 L1597 1166.2 L1599.8 1168.8 L1602.5 1171.7 L1605.3 1174.8 L1608 1178.1 L1609.8 1180.1 L1611.5 1182 L1613.2 1184.6 L1615 1188.6 M1616.6 1201.8 L1617.1 1205.7 L1617.6 1207.9 L1620.9 1210.5 L1624.2 1211.5 L1627.6 1212.4 L1630.9 1214.9 L1631.5 1216.8 L1632.1 1220.4 L1632.6 1224.5 M1634.4 1237.6 L1634.4 1237.6 L1635.9 1242.9 L1637.3 1248 L1638.8 1252.7 L1640.2 1256.9 L1641.7 1260.6 L1643.1 1263.6 L1644.6 1265.9 L1646 1267.3 L1647.5 1267.8 L1649.7 1265.6 L1651.8 1262.6 L1654 1259.1 L1656.2 1255.1 L1656.2 1255.1 M1662.3 1239.3 L1664.8 1235.3 L1667.3 1231.8 L1669.8 1228.7 L1672.2 1226 L1674.7 1223.8 L1677.2 1221.9 L1677.2 1221.9 M1692.1 1220.1 L1692.1 1220.1 L1695.4 1221 L1698.7 1222.1 L1701.9 1223.5 L1705.2 1225.4 L1706.9 1227.3 L1708.7 1230.1 L1710.4 1233.7 L1712.2 1237.5 L1713.9 1241.1 L1715.4 1244.2 L1716.8 1247.7 L1718.3 1251.2 L1719.8 1254.7 L1721.2 1257.8 L1722.7 1260.3 M1733.2 1265.6 L1733.2 1265.6 L1734.8 1264.1 L1736.4 1261.5 L1738 1258 L1739.6 1253.8 L1741.2 1248.9 L1742.8 1243.7 L1742.8 1243.7 M1745.4 1230.6 L1746.3 1226.6 L1747.2 1222.5 L1748 1218.5 L1748.9 1214.6 L1749.8 1211 L1750.7 1207.7 L1751.5 1204.9 L1752.4 1202.6 L1754.5 1198.3 L1756.6 1194.9 L1758.7 1192 L1760.8 1189.4 L1762.9 1186.9 L1765.5 1184.2 L1768.1 1181.6 L1768.1 1181.6 M1775.7 1173.1 L1775.8 1173 L1778.4 1170 L1780.9 1166.8 L1783.5 1163.6 L1785.8 1166.8 L1788.1 1169.9 L1790.4 1173 L1791.8 1174.8 M1799.6 1185.1 L1801.9 1188.1 L1804.3 1191.2 L1806.6 1194.2 L1808.9 1197.1 L1811.3 1200 L1813.6 1202.6 L1816.2 1205.4 L1818.8 1208 L1821.5 1210.5 L1824.1 1212.8 L1827.1 1212.3 L1830.2 1210.8 L1833.2 1208.2 L1836.3 1204.4 L1836.3 1204.4 M1839 1190.4 L1840.6 1185.4 L1842.2 1180.6 L1843.8 1176.4 L1845.5 1172.8 L1847.1 1170 L1848.7 1168.2 L1850.3 1167.6 M1864.3 1167.6 L1864.3 1167.6 L1867.8 1167.3 L1871.3 1166.8 L1874.2 1166.9 L1877.1 1167.1 L1880 1167.3 L1883.2 1168.1 L1886.4 1169.8 L1889.7 1171.9 L1892.9 1173.9 L1896.1 1175.6 L1899.3 1176.4 L1902.8 1176.7 L1906.3 1176.9 L1909.8 1177.1 L1913.3 1177.3 L1916.7 1177.3 M1927.2 1174.6 L1927.3 1174.6 L1930.1 1173.5 L1932.9 1172.2 L1935.8 1170.6 L1938.6 1168.9 L1940.8 1172.1 L1943 1175.4 L1945.2 1178.7 L1946.9 1181.3 M1951.7 1188.6 L1953.8 1191.8 L1955.9 1195.1 L1958 1198.3 L1960.1 1201.6 L1962.2 1204.9 L1977 1178.1"/>
<polyline stroke="#ff0000" stroke-width="14.6" points="247,1390 250.9,1390 254.9,1390 258.8,1389.9 262.8,1389.9 266.7,1389.8 270.6,1389.8 274.6,1389.7 278.5,1389.6 282.4,1389.5 286.4,1389.4 290.3,1389.3 294.2,1389.2 298.2,1389.1 302.1,1389 306.1,1388.9 310,1388.8 314,1388.7 317.9,1388.5 321.9,1388.4 325.9,1388.2 329.9,1388 333.8,1387.8 337.8,1387.6 341.8,1387.4 345.8,1387.1 349.7,1386.8 353.7,1386.5 357.4,1386.2 361.2,1385.8 364.9,1385.3 368.7,1384.8 372.4,1384.2 376.2,1383.5 379.9,1382.7 383.4,1381.8 386.9,1380.5 390.4,1378.7 393.9,1376.5 395.6,1374.8 397.4,1372.3 399.1,1369.3 400.9,1366 402.6,1362.6 404.1,1359.6 405.6,1356.4 407.2,1352.8 408.7,1348.6 409.6,1346 410.5,1343.1 411.3,1339.8 412.2,1335.8 413.1,1331.1 413.5,1328.4 413.8,1325 414.2,1321.1 414.6,1316.9 415,1312.6 415.3,1308.5 415.7,1304.9 416.2,1300.7 416.7,1296.9 417.2,1293.3 417.7,1289.8 418.1,1286.3 418.6,1282.7 419.1,1278.8 419.6,1274.6 420.1,1269.9 420.4,1266.8 420.7,1263.4 421,1259.8 421.3,1255.9 421.5,1251.9 421.8,1247.8 422.1,1243.5 422.4,1239.2 422.7,1234.9 422.9,1231.3 423.2,1227.5 423.4,1223.6 423.6,1219.7 423.9,1215.6 424.1,1211.6 424.3,1207.6 424.6,1203.7 424.8,1199.9 425.1,1195.9 425.3,1191.8 425.6,1187.9 425.8,1183.9 426.1,1180 426.3,1176.2 426.6,1172.4 426.8,1168.7 427.1,1165 427.4,1161 427.7,1157.2 428,1153.4 428.3,1149.8 428.5,1146.1 428.8,1142.3 429.1,1138.5 429.4,1134.4 429.7,1130 429.9,1126.9 430.1,1123.7 430.3,1120.4 430.5,1117 430.7,1113.6 430.9,1110 431.1,1106.4 431.3,1102.7 431.4,1098.9 431.6,1095.1 431.8,1091.2 432,1087.2 432.2,1083.2 432.4,1079.2 432.6,1075.1 432.8,1071 433,1066.9 433.2,1062.7 433.4,1058.6 433.6,1054.4 433.8,1050.2 434,1046 434.2,1041.8 434.4,1037.6 434.6,1033.5 434.8,1029.3 434.9,1025.2 435.1,1021.1 435.3,1017 435.5,1013 435.7,1009 435.9,1005.1 436.1,1001.2 436.3,997.4 436.5,993.6 436.7,989.9 436.9,985.8 437.1,981.7 437.4,977.6 437.6,973.6 437.8,969.6 438,965.6 438.2,961.6 438.5,957.6 438.7,953.7 438.9,949.7 439.1,945.8 439.3,941.9 439.6,938 439.8,934.2 440,930.3 440.2,926.4 440.4,922.6 440.6,918.8 440.9,914.9 441.1,911.1 441.3,907.3 441.5,903.5 441.7,899.7 442,895.9 442.2,892.1 442.4,888.3 442.6,884.5 442.8,880.6 443.1,876.8 443.3,873 443.5,869.2 443.7,865.4 443.9,861.5 444.2,857.7 444.4,853.9 444.6,850 444.8,846.1 445,842.1 445.3,838.1 445.5,834.1 445.7,830.1 445.9,826 446.2,821.9 446.4,817.9 446.6,813.8 446.8,809.7 447,805.6 447.3,801.4 447.5,797.3 447.7,793.2 447.9,789.1 448.2,785.1 448.4,781 448.6,776.9 448.8,772.9 449,768.9 449.3,764.9 449.5,760.9 449.7,757 449.9,753.1 450.2,749.2 450.4,745.4 450.6,741.6 450.8,737.9 451,734.2 451.3,730.5 451.5,726.9 451.7,723.4 451.9,719.9 452.2,716.5 452.4,713.2 452.6,709.9 452.9,705.3 453.2,700.7 453.6,696.1 453.9,691.6 454.2,687 454.5,682.5 454.8,678 455.1,673.6 455.5,669.2 455.8,664.8 456.1,660.4 456.4,656.1 456.7,651.8 457,647.6 457.4,643.4 457.7,639.3 458,635.2 458.3,631.2 458.6,627.2 458.9,623.3 459.2,619.4 459.6,615.6 459.9,611.9 460.2,608.2 460.5,604.6 460.8,601 461.1,597.6 461.5,594.2 461.8,590.9 462.1,587.6 462.4,584.5 462.7,581.4 463.1,578.4 463.4,575.5 463.7,572.7 464,570 464.6,565.3 465.1,560.9 465.7,556.7 466.3,552.7 466.9,548.8 467.4,545.1 468,541.6 468.6,538.1 469.1,534.6 469.7,531.2 470.3,527.8 470.9,524.4 471.4,520.9 472,517.3 472.6,513.4 473.2,509.5 473.9,505.6 474.5,501.8 475.1,497.9 475.7,494.1 476.3,490.3 477,486.6 477.6,482.8 478.2,479.1 478.8,475.4 479.4,471.7 480.1,468 480.7,464.4 481.3,460.8 481.9,462.6 482.5,464.7 483.1,467.2 483.7,470.1 484.3,473.2 484.9,476.7 485.5,480.4 486.2,484.4 486.8,488.6 487.4,493.1 488,497.6 488.6,502.4 489.2,507.3 489.8,512.2 490.4,517.3 490.7,520.3 491,523.8 491.4,527.7 491.7,532 492,536.5 492.3,541.1 492.6,545.7 493,550.2 493.3,554.5 493.6,558.6 493.9,562.2 494.3,565.4 494.6,567.9 494.9,569.8 496,574.7 497.1,579 498.3,582.4 499.4,584.6 500.5,585.4 501.1,583.6 501.6,581.3 502.2,578.6 502.8,575.5 503.3,572 503.9,568.2 504.5,564.1 505.1,559.7 505.6,555 506.2,550.2 506.8,545.2 507.3,540.1 507.9,534.8 508.2,532.1 508.5,529.3 508.8,526.3 509,523.3 509.3,520.1 509.6,516.8 509.9,513.3 510.2,509.7 510.4,505.9 510.7,502 511,497.9 511.3,493.7 511.6,489.3 511.9,484.8 512.1,480.1 512.4,475.2 512.7,470.1 513,464.9 513.1,462 513.3,458.7 513.4,455.1 513.6,451.3 513.7,447.2 513.9,443 514,438.6 514.2,434.1 514.3,429.6 514.4,425.1 514.6,420.7 514.7,416.3 514.9,412.1 515,408.1 515.2,404.4 515.3,400.9 515.5,397.7 515.6,394.9 515.9,390.7 516.1,387 516.4,383.7 516.6,380.6 516.9,377.4 517.1,373.9 517.4,369.9 517.6,366.6 517.8,362.7 517.9,358.6 518.1,354.2 518.3,349.7 518.5,345.1 518.7,340.7 518.9,336.5 519,332.6 519.2,329.1 519.4,326.2 519.8,320.9 520.1,315.8 520.5,311 520.9,306.7 521.3,302.8 521.6,299.6 522,297.1 522.4,295.4 531.6,300.4 532.6,299.2 533.7,296 534.7,291.2 535,289.1 535.2,285.9 535.5,281.9 535.8,277.4 536.1,272.9 536.3,268.6 536.6,265 537,260.7 537.4,256.7 537.8,253 538.2,249.5 538.5,246 538.9,242.5 539.3,238.7 539.7,234.6 540.1,230 540.3,227 540.6,223.8 540.8,220.4 541,216.7 541.2,212.9 541.5,208.9 541.7,204.7 541.9,200.5 542.1,196.2 542.4,191.8 542.6,187.4 542.8,183 543.1,178.6 543.3,174.3 543.5,170.1 543.7,166 544,162 544.2,158.1 544.4,154.5 544.6,151.1 544.9,147.8 545.1,144.9 545.5,139.7 546,134.5 546.4,129.4 546.8,124.3 547.2,119.4 547.6,114.5 548.1,109.7 548.5,105 548.9,100.4 549.4,95.9 549.8,91.6 550.2,87.4 550.6,83.3 551,79.5 551.5,75.7 551.9,72.2 552.3,68.9 552.8,65.7 553.2,62.7 553.6,60 554,57.5 554.4,55.2 554.9,53.2 555.3,51.4 555.6,55.3 555.9,59.3 556.1,63.2 556.4,67.1 556.7,71.1 557,75 557.3,78.9 557.6,82.8 557.9,86.7 558.1,90.6 558.4,94.5 558.7,98.4 559,102.3 559.3,106.2 559.5,110.1 559.8,114 560.1,117.8 560.4,121.7 560.7,125.6 561,129.5 561.2,133.3 561.5,137.2 561.8,141 562.1,144.9 562.4,148.9 562.7,153 563,157.1 563.3,161.3 563.5,165.6 563.8,169.8 564.1,174.1 564.4,178.3 564.7,182.5 565,186.6 565.3,190.7 565.6,194.6 565.9,198.4 566.1,202.1 566.4,205.6 566.7,208.9 567,212 567.3,214.9 567.8,219 568.2,222.6 568.7,226.1 569.2,230 569.5,233.1 569.9,236.4 570.2,239.8 570.6,243.3 570.9,246.9 571.2,250.6 571.6,254.4 571.9,258.3 572.2,262.2 572.6,266.3 572.9,270.3 573.3,274.5 573.6,278.6 573.9,282.8 574.3,287.1 574.6,291.3 575,295.6 575.3,299.9 575.6,303.3 575.8,306.8 576.1,310.3 576.4,313.9 576.6,317.6 576.9,321.2 577.2,325 577.5,328.7 577.7,332.5 578,336.3 578.3,340.2 578.5,344.1 578.8,348 579.1,351.9 579.3,355.9 579.6,359.9 579.8,363.6 580.1,367.3 580.3,371 580.6,374.8 580.8,378.6 581.1,382.5 581.3,386.4 581.6,390.3 581.8,394.2 582,398.2 582.3,402.1 582.5,406.1 582.8,410.1 583,414.1 583.3,418 583.5,422 583.8,426 584,429.9 584.2,433.8 584.5,437.6 584.7,441.5 585,445.4 585.2,449.4 585.4,453.3 585.7,457.2 585.9,461.2 586.1,465.1 586.4,469 586.6,473 586.9,476.9 587.1,480.8 587.3,484.6 587.6,488.5 587.8,492.3 588.1,496.1 588.3,499.8 588.5,503.7 588.8,507.7 589,511.7 589.3,515.7 589.5,519.7 589.8,523.7 590,527.6 590.3,531.5 590.5,535.3 590.8,539 591,542.5 591.3,546 591.5,549.2 591.8,552.3 592.2,557.1 592.6,561.8 593,566.5 593.4,570.9 593.8,575.3 594.2,579.5 594.7,583.5 595.1,587.4 595.5,591 595.9,594.5 596.3,597.7 596.7,600.7 597.1,603.5 609.8,557.8 610.5,558.2 611.2,559.3 611.9,561.1 612.7,563.5 613.4,566.5 614.1,570 614.8,574 615.5,578.4 616.2,583.1 616.9,588.1 617.7,593.3 618.4,598.7 619.1,604.3 619.8,609.9 620.1,612.4 620.4,615.3 620.7,618.5 621,622.1 621.2,625.9 621.5,629.9 621.8,634.2 622.1,638.5 622.4,643 622.7,647.5 623,652 623.3,656.4 623.6,660.8 623.8,665.1 624.1,669.1 624.4,673 624.7,676.6 625,679.9 625.4,684.6 625.9,689.3 626.3,693.9 626.8,698.4 627.2,702.8 627.6,707.1 628.1,711.3 628.5,715.5 629,719.5 629.4,723.4 629.8,727.2 630.3,730.8 630.7,734.4 631.1,737.8 631.6,741 632,744.1 632.5,747 632.9,749.8 633.7,754.7 634.6,759.3 635.4,763.5 636.2,767.5 637.1,771.2 637.9,774.8 638.8,778.2 639.6,781.5 640.4,784.7 641.3,788 642.1,791.3 642.9,794.6 643.8,798.2 644.6,801.9 645.5,805.8 646.3,810 646.9,813.2 647.5,816.5 648.1,819.8 648.7,823.2 649.3,826.6 649.9,830.1 650.6,833.7 651.2,837.3 651.8,841 652.4,844.7 653,848.4 653.6,852.2 654.2,856.1 654.8,860 655.4,863.9 656,867.8 656.6,871.8 657.2,875.8 657.9,879.8 658.5,883.9 659.1,887.9 659.7,892 660.3,896.1 660.9,900.3 661.5,904.4 662.1,908.5 662.7,912.7 663.3,916.8 663.9,921 664.6,925.1 665.2,929.3 665.8,933.4 666.4,937.6 667,941.7 667.6,945.8 668.2,949.9 668.8,953.7 669.3,957.5 669.9,961.4 670.4,965.3 671,969.2 671.5,973.2 672.1,977.2 672.7,981.3 673.2,985.3 673.8,989.4 674.3,993.5 674.9,997.6 675.4,1001.7 676,1005.9 676.6,1010 677.1,1014.1 677.7,1018.2 678.2,1022.3 678.8,1026.4 679.4,1030.5 679.9,1034.5 680.5,1038.5 681,1042.5 681.6,1046.5 682.1,1050.4 682.7,1054.3 683.3,1058.1 683.8,1061.9 684.4,1065.6 684.9,1069.3 685.5,1073 686,1076.5 686.6,1080 687.3,1084.3 688,1088.5 688.7,1092.7 689.4,1096.8 690.1,1100.9 690.8,1105 691.5,1108.9 692.2,1112.9 692.9,1116.8 693.5,1120.7 694.2,1124.5 694.9,1128.2 695.6,1131.9 696.3,1135.6 697,1139.3 697.7,1142.8 698.4,1146.4 699.1,1149.9 700,1154.2 700.8,1158.4 701.7,1162.6 702.5,1166.7 703.4,1170.9 704.2,1174.9 705.1,1178.9 705.9,1182.9 706.8,1186.8 707.7,1190.7 708.5,1194.5 709.4,1198.2 710.2,1201.9 711.1,1205.6 711.9,1209.1 712.8,1212.7 713.6,1216.1 714.5,1219.5 735.5,1184.4 736.7,1187.8 737.9,1191.3 739.1,1194.8 740.3,1198.4 741.5,1202 742.7,1205.6 743.9,1209.2 745.1,1212.9 746.2,1216.5 747.3,1220.5 748.4,1224.7 749.5,1228.8 750.6,1232.6 751.7,1236.1 752.8,1238.9 753.9,1240.9 756.5,1244.3 759.1,1246.9 761.7,1247.9 765.5,1247.1 769.3,1245.5 773.1,1244.7 776.3,1245.7 779.5,1248.3 782.7,1251.5 785.9,1254.8 789.1,1257.4 792.3,1258.4 795.6,1257.5 799,1255.3 802.3,1252.7 805.7,1250.5 809,1249.6 810.8,1250.3 812.7,1252.2 814.5,1255 816.4,1258.5 818.2,1262.5 820.1,1266.6 821.9,1270.7 823.8,1274.4 825.6,1277.6 827.7,1280.7 829.9,1283.7 832,1286.5 834.1,1289.3 836.3,1292.1 838.4,1294.8 840.5,1297.7 842.7,1300.7 844.8,1303.8 846.7,1306.9 848.7,1310.2 850.6,1313.6 852.6,1317.1 854.5,1320.6 856.5,1324.1 858.4,1327.4 860.4,1330.6 862.3,1333.5 864.5,1336.6 866.8,1339.7 869,1342.6 871.3,1345.3 873.5,1348 875.8,1350.5 878,1352.8 906,1332.7 908.9,1335.1 911.8,1337.4 914.7,1339.7 917.6,1342 920.6,1344.2 923.5,1346.4 926.4,1348.6 929.3,1350.7 932.2,1352.8 935.4,1355.2 938.6,1357.9 941.8,1360.7 945,1363.6 948.2,1366.3 951.5,1368.7 954.7,1370.9 957.9,1372.5 961.1,1373.6 964.3,1374 967.7,1373.4 971,1372 974.4,1369.9 977.8,1367.8 981.2,1365.7 984.5,1364.3 987.9,1363.7 991,1364.4 994,1366.1 997.1,1368.7 1000.1,1371.8 1003.2,1375 1006.2,1378.1 1009.3,1380.7 1012.3,1382.4 1015.4,1383.1 1018.7,1382.7 1022,1381.8 1025.2,1380.6 1028.5,1379.5 1031.8,1378.6 1035.1,1378.2 1038.8,1378.4 1042.4,1379 1046.1,1379.6 1049.7,1380.2 1053.4,1380.5 1056.8,1380.6 1060.2,1380.6 1063.7,1380.7 1067.1,1380.7 1070.5,1380.8 1074.3,1381 1078.2,1381.5 1082,1382.2 1085.9,1383 1089.7,1383.9 1093.6,1384.9 1097.4,1386 1101.3,1387 1105.1,1388.1 1109,1389.1 1112.8,1390 1116.7,1390.7 1120.5,1391.3 1124.4,1391.7 1128.2,1391.8 1132,1391.7 1135.8,1391.5 1139.6,1391.2 1143.4,1390.8 1147.1,1390.4 1150.9,1390 1154.7,1389.7 1158.5,1389.5 1162.3,1389.4 1166.2,1389.5 1170.2,1389.6 1174.1,1389.9 1178,1390.2 1181.9,1390.6 1185.9,1391 1189.8,1391.3 1193.7,1391.6 1197.7,1391.7 1201.6,1391.8 1205.5,1391.7 1209.5,1391.5 1213.4,1391.2 1217.3,1391 1221.3,1390.8 1225.2,1390.7 1229,1390.8 1232.9,1391 1236.7,1391.3 1240.5,1391.6 1244.4,1392.1 1248.2,1392.6 1252,1393 1255.8,1393.5 1259.7,1394 1263.5,1394.3 1267.3,1394.6 1271.2,1394.8 1275,1394.9 1278.6,1394.8 1282.2,1394.7 1285.8,1394.4 1289.5,1394.2 1293.1,1393.9 1296.7,1393.6 1300.3,1393.5 1303.9,1393.4 1307.6,1393.6 1311.4,1394 1315.1,1394.5 1318.9,1395.1 1322.6,1395.6 1326.4,1396 1330.1,1396.2 1333.9,1396.2 1337.7,1396.1 1341.6,1396 1345.4,1395.9 1349.2,1395.8 1353,1395.6 1356.8,1395.5 1360.6,1395.4 1364.5,1395.3 1368.3,1395.2 1372.1,1395.2 1376.1,1395.2 1380.1,1395.2 1384.1,1395.3 1388.1,1395.4 1392.1,1395.5 1396.1,1395.6 1400.1,1395.7 1404.1,1395.8 1408,1395.9 1412,1396 1416,1396.1 1420,1396.2 1424,1396.3 1428,1396.4 1432,1396.5 1436,1396.5 1440,1396.5 1443.9,1396.5 1447.8,1396.5 1451.7,1396.5 1455.6,1396.5 1459.5,1396.5 1463.4,1396.5 1467.3,1396.5 1471.2,1396.5 1475.1,1396.4 1479,1396.4 1482.9,1396.4 1486.8,1396.4 1490.7,1396.4 1494.6,1396.4 1498.5,1396.3 1502.4,1396.3 1506.3,1396.3 1510.2,1396.3 1514.1,1396.3 1518,1396.3 1522,1396.2 1525.9,1396.2 1529.8,1396.2 1533.7,1396.2 1537.6,1396.2 1541.5,1396.2 1545.4,1396.1 1549.3,1396.1 1553.2,1396.1 1557.1,1396.1 1561,1396.1 1564.9,1396.1 1568.8,1396 1572.7,1396 1576.6,1396 1580.5,1396 1584.4,1396 1588.3,1396 1592.2,1396 1596.1,1396 1600,1396 1604,1396 1608,1396 1612,1396 1616,1396 1620,1396 1624,1396 1628,1396 1632,1396 1636,1396 1640,1396 1644,1396 1648,1396 1652,1396 1656,1396 1660,1396 1664,1396 1668,1396 1672,1396 1676,1396 1680,1396 1684,1396 1688,1396 1692,1396 1696,1396 1700,1396 1704,1396 1708,1396 1712,1396 1716,1396 1720,1396 1724,1396 1728,1396 1732,1396 1736,1396 1740,1396 1744,1396 1748,1396 1752,1396 1756,1396 1760,1396 1764,1396 1768,1396 1772,1396 1776,1396 1780,1396 1784,1396 1788,1396 1792,1396 1796,1396 1800,1396 1803.9,1396 1807.9,1396 1811.8,1396 1815.7,1396 1819.7,1396 1823.6,1396 1827.5,1396 1831.5,1396 1835.4,1395.9 1839.3,1395.9 1843.3,1395.9 1847.2,1395.9 1851.1,1395.9 1855.1,1395.9 1859,1395.8 1862.9,1395.8 1866.9,1395.8 1870.8,1395.8 1874.7,1395.8 1878.7,1395.7 1882.6,1395.7 1886.5,1395.7 1890.5,1395.7 1894.4,1395.6 1898.3,1395.6 1902.3,1395.6 1906.2,1395.6 1910.1,1395.5 1914.1,1395.5 1918,1395.5 1921.9,1395.4 1925.9,1395.4 1929.8,1395.4 1933.7,1395.4 1937.7,1395.3 1941.6,1395.3 1945.5,1395.3 1949.5,1395.2 1953.4,1395.2 1957.3,1395.2 1961.3,1395.1 1965.2,1395.1 1969.1,1395.1 1973.1,1395 1977,1395"/>
</g>
<g class="tick" text-anchor="middle">
<text transform="translate(246 1489.9) scale(1 1.035)">0</text>
<text transform="translate(534.3 1489.9) scale(1 1.035)">0.01</text>
<text transform="translate(822.7 1489.9) scale(1 1.035)">0.02</text>
<text transform="translate(1111 1489.9) scale(1 1.035)">0.03</text>
<text transform="translate(1399.3 1489.9) scale(1 1.035)">0.04</text>
<text transform="translate(1687.7 1489.9) scale(1 1.035)">0.05</text>
<text transform="translate(1976 1489.9) scale(1 1.035)">0.06</text>
</g>
<g class="tick" text-anchor="end">
<text transform="translate(220.6 1424.7) scale(1 1.035)">0</text>
<text transform="translate(220.6 1154.8) scale(1 1.035)">0.2</text>
<text transform="translate(220.6 884.9) scale(1 1.035)">0.4</text>
<text transform="translate(220.6 614.9) scale(1 1.035)">0.6</text>
<text transform="translate(220.6 345) scale(1 1.035)">0.8</text>
<text transform="translate(220.6 75.1) scale(1 1.035)">1</text>
</g>
<text class="lab" text-anchor="middle" transform="translate(1109.3 1582.7) scale(1 1.034)">Wave Number(1/m)</text>
<text class="lab" text-anchor="middle" transform="translate(100 727.9) rotate(-90) scale(1.01 1.034)">Amplitude</text>
<rect x="953.1" y="88.1" width="986.8" height="247.7" fill="#262626"/>
<rect x="965" y="99.6" width="964.3" height="225.4" fill="#ffffff"/>
<g fill="none" stroke-width="14.3" shape-rendering="crispEdges">
<line x1="974.9" y1="137.7" x2="1133" y2="137.7" stroke="#000000" stroke-dasharray="14.6 12"/>
<line x1="974.9" y1="212.1" x2="1135.2" y2="212.1" stroke="#0000ff" stroke-dasharray="54 12 28 12"/>
<line x1="974.9" y1="285.9" x2="1135.2" y2="285.9" stroke="#ff0000"/>
</g>
<g class="leg">
<text transform="translate(1146 159.5) scale(1 1.03)">Original data</text>
<text transform="translate(1146.7 233.6) scale(1 1.03)">Data after SSA-Denoising</text>
<text transform="translate(1146.7 307.5) scale(1 1.03)">Data after NLTDD-Denoising</text>
</g>
</svg>
</body>
</html>
